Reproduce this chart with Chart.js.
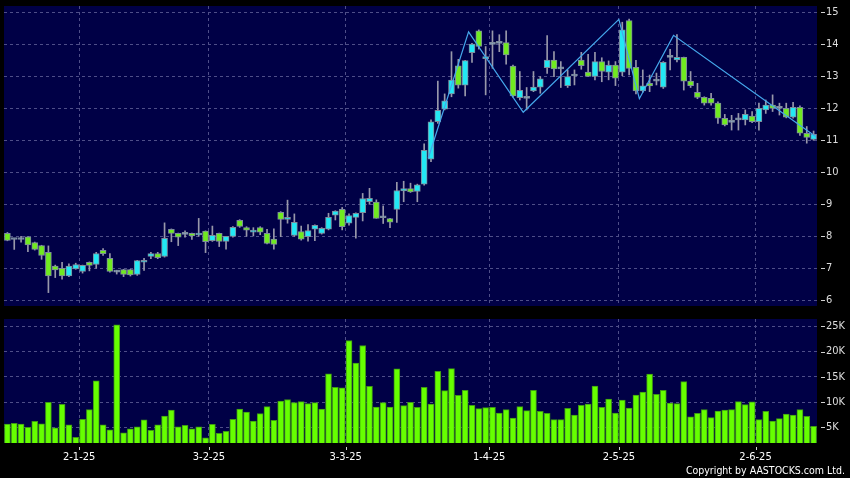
<!DOCTYPE html>
<html><head><meta charset="utf-8">
<script src="https://cdn.jsdelivr.net/npm/chart.js@4.4.1/dist/chart.umd.min.js"></script>
<style>
html,body{margin:0;padding:0;background:#000;width:850px;height:478px;overflow:hidden;}
#c1{position:absolute;left:0;top:0;}
#c2{position:absolute;left:0;top:312px;}
#copy{position:absolute;right:5px;top:464px;font-family:'DejaVu Sans Condensed','DejaVu Sans',sans-serif;font-size:10.5px;line-height:13px;color:#fff;white-space:nowrap;}
</style></head>
<body>
<canvas id="c1" width="850" height="312"></canvas>
<canvas id="c2" width="850" height="166"></canvas>
<div id="copy">Copyright by AASTOCKS.com Ltd.</div>
<script>
const dates = ['16-12-24','17-12-24','18-12-24','19-12-24','20-12-24','23-12-24','24-12-24','27-12-24','30-12-24','31-12-24',
'2-1-25','3-1-25','6-1-25','7-1-25','8-1-25','9-1-25','10-1-25','13-1-25','14-1-25','15-1-25','16-1-25','17-1-25','20-1-25','21-1-25','22-1-25','23-1-25','24-1-25','27-1-25','28-1-25',
'3-2-25','4-2-25','5-2-25','6-2-25','7-2-25','10-2-25','11-2-25','12-2-25','13-2-25','14-2-25','17-2-25','18-2-25','19-2-25','20-2-25','21-2-25','24-2-25','25-2-25','26-2-25','27-2-25','28-2-25',
'3-3-25','4-3-25','5-3-25','6-3-25','7-3-25','10-3-25','11-3-25','12-3-25','13-3-25','14-3-25','17-3-25','18-3-25','19-3-25','20-3-25','21-3-25','24-3-25','25-3-25','26-3-25','27-3-25','28-3-25','31-3-25',
'1-4-25','2-4-25','3-4-25','7-4-25','8-4-25','9-4-25','10-4-25','11-4-25','14-4-25','15-4-25','16-4-25','17-4-25','22-4-25','23-4-25','24-4-25','25-4-25','28-4-25','29-4-25','30-4-25',
'2-5-25','6-5-25','7-5-25','8-5-25','9-5-25','12-5-25','13-5-25','14-5-25','15-5-25','16-5-25','19-5-25','20-5-25','21-5-25','22-5-25','23-5-25','26-5-25','27-5-25','28-5-25','29-5-25','30-5-25',
'2-6-25','3-6-25','4-6-25','5-6-25','6-6-25','9-6-25','10-6-25','11-6-25','12-6-25','13-6-25'];

const open = [8.09,7.90,7.90,7.98,7.80,7.71,7.50,7.07,7.00,6.76, 6.98,6.90,7.19,7.12,7.56,7.31,6.88,6.96,6.96,6.81, 7.19,7.37,7.46,7.37,8.22,8.09,8.06,8.09,8.04,8.16, 7.86,8.09,7.84,8.00,8.50,8.27,8.13,8.27,8.09,7.91, 8.75,8.53,8.03,8.15,7.99,8.22,8.09,8.22,8.66,8.84, 8.41,8.59,8.74,9.08,9.07,8.58,8.55,8.84,9.42,9.49, 9.40,9.63,10.41,11.58,11.97,12.45,13.33,12.72,13.74,14.42, 13.55,14.00,14.03,14.05,13.32,12.33,12.31,12.54,12.66,13.27, 13.51,13.23,12.71,13.01,13.51,13.13,13.00,13.46,13.13,13.35, 13.13,14.74,13.28,12.54,12.78,12.85,12.66,13.59,13.51,13.59, 12.85,12.50,12.34,12.31,12.16,11.69,11.56,11.64,11.64,11.76, 11.58,11.95,12.10,12.00,12.00,11.72,12.03,11.22,11.03];
const high = [8.12,7.92,8.00,7.99,7.82,7.72,7.70,7.10,7.19,7.14, 7.16,7.10,7.20,7.50,7.62,7.46,6.94,6.97,6.97,7.25, 7.31,7.50,7.50,8.42,8.23,8.10,8.17,8.10,8.56,8.17, 8.32,8.10,8.00,8.30,8.52,8.30,8.27,8.30,8.22,8.23, 8.77,9.13,8.70,8.32,8.37,8.36,8.27,8.72,8.80,8.90, 8.70,8.73,9.34,9.50,9.14,8.95,8.56,9.69,9.72,9.66, 9.63,10.89,11.64,12.85,12.45,13.77,13.53,13.50,14.03,14.45, 13.93,14.42,14.30,14.42,13.35,13.15,12.65,13.15,12.99,14.27, 13.77,13.46,13.20,13.20,13.75,13.69,13.75,13.58,13.48,13.46, 14.69,14.79,13.50,13.20,13.04,13.10,13.46,13.84,14.30,13.60, 13.15,12.78,12.36,12.47,12.20,11.81,11.78,11.84,11.95,11.90, 12.16,12.26,12.42,12.16,12.16,12.19,12.08,11.43,11.29];
const low = [7.86,7.59,7.82,7.52,7.57,7.28,6.24,6.71,6.66,6.74, 6.97,6.85,6.92,7.00,7.40,6.88,6.82,6.74,6.76,6.78, 6.93,7.30,7.30,7.35,7.83,7.71,7.97,7.90,8.00,7.49, 7.84,7.68,7.60,7.97,8.28,8.00,8.01,8.05,7.76,7.60, 7.99,8.41,8.00,7.88,7.85,7.86,8.07,8.20,8.51,8.20, 8.35,7.94,8.48,9.00,8.56,8.40,8.27,8.43,9.08,9.37, 9.08,9.60,10.33,11.53,11.95,12.36,12.63,12.39,13.43,13.85, 12.42,13.25,13.77,13.38,12.35,12.26,11.95,12.52,12.47,13.09, 12.99,12.65,12.65,12.73,13.22,13.00,12.89,12.83,12.89,12.71, 13.02,13.04,12.45,12.50,12.52,12.73,12.62,13.20,13.45,12.57, 12.65,12.30,12.10,12.10,11.53,11.45,11.32,11.32,11.48,11.55, 11.32,11.84,11.90,11.79,11.70,11.69,11.15,10.91,11.00];
const close = [7.875,7.90,7.90,7.73,7.59,7.40,6.76,6.95,6.76,7.07, 7.12,7.09,7.09,7.46,7.46,6.90,6.88,6.81,6.79,7.24, 7.25,7.46,7.33,7.94,8.09,7.97,8.06,8.01,8.09,7.83, 8.03,7.84,8.00,8.28,8.31,8.19,8.18,8.13,7.78,7.75, 8.53,8.58,8.44,7.91,8.18,8.34,8.25,8.59,8.79,8.30, 8.65,8.72,9.18,9.19,8.56,8.58,8.44,9.43,9.49,9.39, 9.61,10.69,11.58,11.94,12.23,12.88,12.72,13.49,14.01,13.93, 13.61,14.00,14.03,13.67,12.39,12.56,12.31,12.66,12.92,13.51, 13.23,13.23,12.99,13.01,13.33,13.00,13.46,13.15,13.35,12.94, 14.45,13.25,12.54,12.70,12.70,12.85,13.44,13.59,13.59,12.85, 12.71,12.34,12.16,12.16,11.69,11.48,11.56,11.64,11.81,11.58, 12.00,12.10,12.00,12.00,11.72,12.03,11.22,11.09,11.19];
const volume = [5660,5800,5660,5000,6200,5700,9950,4900,9550,5500, 3000,6600,8500,14200,5500,4500,25300,3900,4700,5100, 6500,4400,5500,7200,8400,5100,5400,4700,5100,2900, 5600,3800,4200,6600,8600,8000,6250,7700,9100,6400, 10200,10500,9900,10100,9700,9900,8600,15600,12900,12800, 22200,17700,21200,13100,9000,9900,9000,16600,9300,9950, 8960,12920,9620,16090,12260,16620,11340,12330,9360,8700, 8890,8960,7840,8500,6850,9090,8300,12330,8170,7770, 6520,6520,8760,7440,9360,9620,13180,8960,10610,7840, 10410,8830,11400,12000,15560,11530,12330,9820,9690,14040, 7050,7770,8500,6910,8230,8430,8500,10080,9490,10020, 6520,8170,6250,6720,7640,7440,8500,7180,5200];

// zigzag indicator vertices (x in bar-index units, y = price)
const zigzagX = [61.6, 67.5, 75.5, 89.5, 92.5, 97.5, 118.3];
const zigzagY = [10.44, 14.39, 11.875, 14.78, 12.30, 14.28, 11.12];

const dateTickLabels = ['2-1-25','3-2-25','3-3-25','1-4-25','2-5-25','2-6-25'];
const priceTicks = [6,7,8,9,10,11,12,13,14,15];
const volumeTicks = [5000,10000,15000,20000,25000];

const FONT = "'DejaVu Sans Condensed','DejaVu Sans',sans-serif";
const GRID = '#4e4e88';
const NAVY = '#000046';
const UP = '#22e8f4', DOWN = '#70ea20', FLAT = '#8fa8c0';

const tickPos = dateTickLabels.map(l => dates.indexOf(l) + 0.5);
const labelAt = v => { const i = tickPos.findIndex(p => Math.abs(p - v) < 0.01); return i >= 0 ? dateTickLabels[i] : ''; };

const bgPlugin = {id:'bg', beforeDraw(chart){const {ctx, chartArea:a} = chart; ctx.save(); ctx.fillStyle = NAVY; ctx.fillRect(a.left, a.top, a.right - a.left, a.bottom - a.top); ctx.restore();}};
const markPlugin = {id:'marks', afterDraw(chart, args, opts){
  const {ctx, chartArea:a} = chart; ctx.save(); ctx.strokeStyle = '#cfcfcf'; ctx.lineWidth = 1;
  const y = chart.scales.y;
  y.ticks.forEach(t => {const py = Math.round(y.getPixelForValue(t.value)) + 0.5; ctx.beginPath(); ctx.moveTo(a.right + 4, py); ctx.lineTo(a.right + 8, py); ctx.stroke();});
  if (opts && opts.xMarks) { const x = chart.scales.x; x.ticks.forEach(t => {const px = Math.round(x.getPixelForValue(t.value)) + 0.5; ctx.beginPath(); ctx.moveTo(px, a.bottom + 4); ctx.lineTo(px, a.bottom + 7); ctx.stroke();}); }
  ctx.restore();
}};

const idx = dates.map((d, i) => i);
const bodies = idx.map(i => ({x: i, y: [open[i], close[i]]}));
const wicks = idx.map(i => ({x: i, y: [low[i], high[i]]}));
const bodyColors = idx.map(i => close[i] > open[i] ? UP : (close[i] < open[i] ? DOWN : FLAT));
const zig = zigzagX.map((x, i) => ({x, y: zigzagY[i]}));

const xBase = (showLabels, height) => ({
  type:'linear', min:-0.5, max:dates.length - 0.5, offset:false,
  grid:{offset:false, color:GRID, drawTicks:false, lineWidth:1},
  border:{display:false, dash:[3,3]},
  ticks:{display:showLabels, color:'#ffffff', font:{family:FONT, size:11}, padding:8, maxRotation:0, autoSkip:false, callback:v => labelAt(v)},
  afterBuildTicks: s => { s.ticks = tickPos.map(v => ({value:v})); },
  afterFit: s => { s.height = height; s.paddingLeft = 0; s.paddingRight = 0; }
});

new Chart(document.getElementById('c1'), {
  type:'bar',
  data:{datasets:[
    {type:'line', data:zig, borderColor:'#45a8ec', borderWidth:1.2, pointRadius:0, tension:0, order:0},
    {data:bodies, backgroundColor:bodyColors, borderColor:'#7d8c9c', borderWidth:1, borderSkipped:false, barThickness:6, minBarLength:2, grouped:false, order:1},
    {data:wicks, backgroundColor:'#9898aa', barThickness:1, grouped:false, order:2}
  ]},
  options:{
    responsive:false, animation:false, devicePixelRatio:1,
    layout:{padding:{left:4, top:6, right:0, bottom:6}},
    plugins:{legend:{display:false}, tooltip:{enabled:false}, marks:{xMarks:false}},
    scales:{
      x: xBase(false, 0),
      y:{position:'right', min:5.822, max:15.197,
        grid:{color:GRID, drawTicks:false}, border:{display:false, dash:[3,3]},
        ticks:{color:'#dddddd', font:{family:FONT, size:11}, padding:9},
        afterBuildTicks: s => { s.ticks = priceTicks.map(v => ({value:v})); },
        afterFit: s => { s.width = 33; s.paddingTop = 0; s.paddingBottom = 0; }}
    }
  },
  plugins:[bgPlugin, markPlugin]
});

new Chart(document.getElementById('c2'), {
  type:'bar',
  data:{datasets:[
    {data:idx.map(i => ({x:i, y:volume[i]})), backgroundColor:'#66ff00', borderColor:'#3f9a14', borderWidth:1, barThickness:6}
  ]},
  options:{
    responsive:false, animation:false, devicePixelRatio:1,
    layout:{padding:{left:4, top:7, right:0, bottom:0}},
    plugins:{legend:{display:false}, tooltip:{enabled:false}, marks:{xMarks:true}},
    scales:{
      x: xBase(true, 35),
      y:{position:'right', min:1890, max:26450,
        grid:{color:GRID, drawTicks:false}, border:{display:false, dash:[3,3]},
        ticks:{color:'#dddddd', font:{family:FONT, size:11}, padding:9, callback:v => (v/1000) + 'K'},
        afterBuildTicks: s => { s.ticks = volumeTicks.map(v => ({value:v})); },
        afterFit: s => { s.width = 33; s.paddingTop = 0; s.paddingBottom = 0; }}
    }
  },
  plugins:[bgPlugin, markPlugin]
});
</script>
</body></html>
